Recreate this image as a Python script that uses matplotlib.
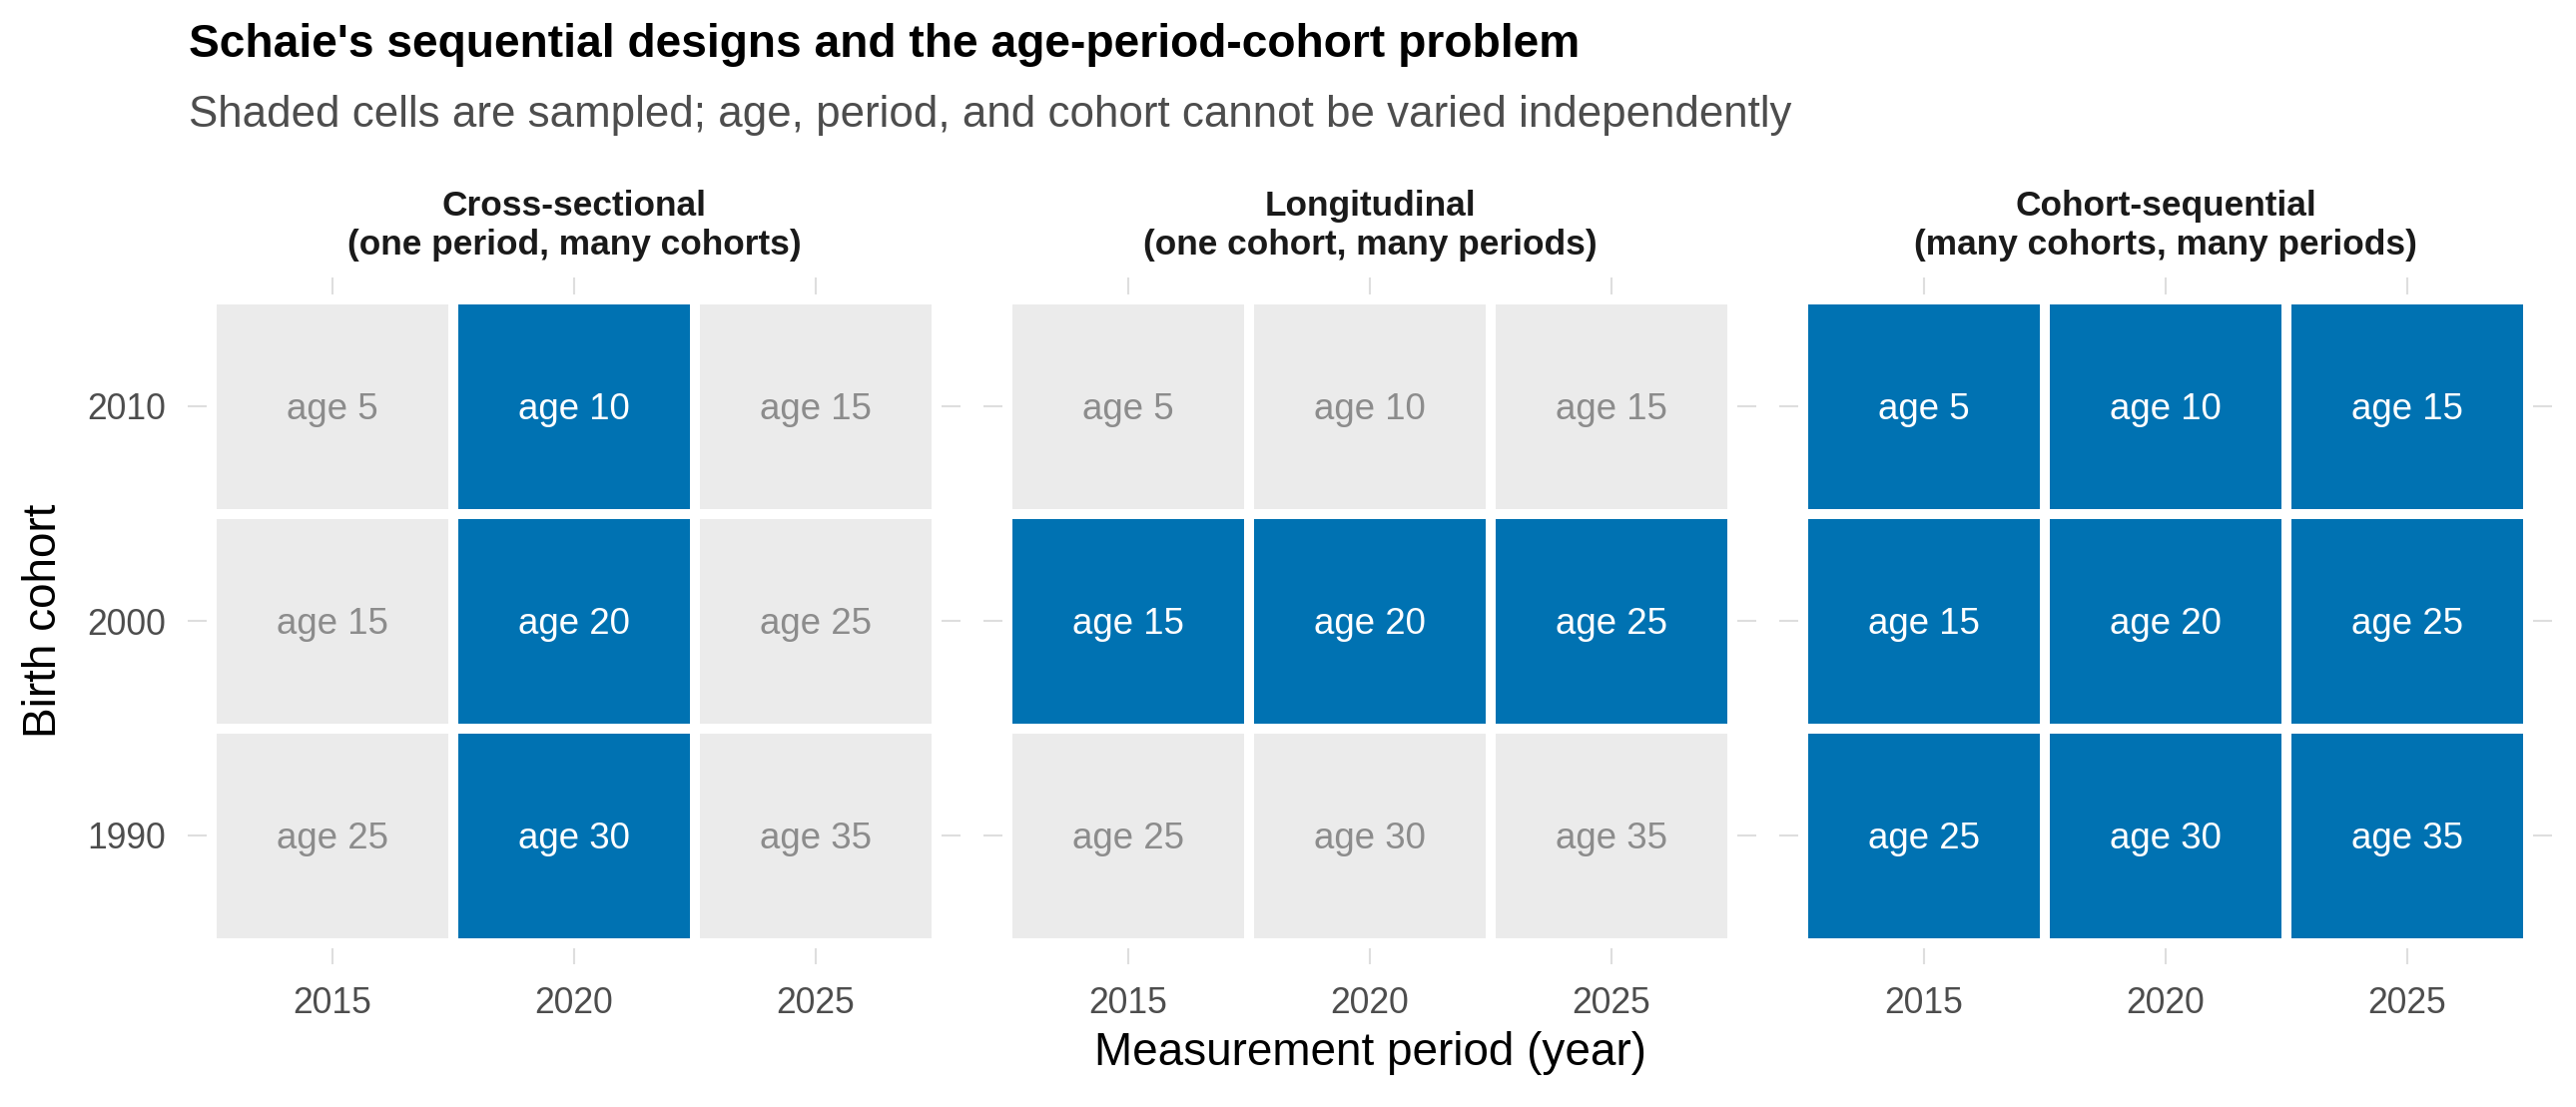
import matplotlib
matplotlib.use("Agg")
import matplotlib.pyplot as plt
from matplotlib.transforms import offset_copy

plt.rcParams['font.family'] = ['Liberation Sans', 'DejaVu Sans']

# data
designs = [
    "Cross-sectional\n(one period, many cohorts)",
    "Longitudinal\n(one cohort, many periods)",
    "Cohort-sequential\n(many cohorts, many periods)",
]
periods = [2015, 2020, 2025]
cohorts = [2010, 2000, 1990]
# ages, one row per cohort (same order as cohorts)
ages = [
    [5, 10, 15],
    [15, 20, 25],
    [25, 30, 35],
]
# 1 = sampled cell, rows follow cohorts, columns follow periods
sampled_cross = [[0, 1, 0], [0, 1, 0], [0, 1, 0]]
sampled_long = [[0, 0, 0], [1, 1, 1], [0, 0, 0]]
sampled_coh = [[1, 1, 1], [1, 1, 1], [1, 1, 1]]
sampled = [sampled_cross, sampled_long, sampled_coh]

BLUE = "#0072B2"
GREY_TILE = "#EBEBEB"
GRID = "#DEDEDE"

W, H, DPI = 2580, 1109, 200
fig = plt.figure(figsize=(W / DPI, H / DPI), dpi=DPI)

panel_left = [188, 985, 1782]
panel_w = 774
panel_top, panel_bot = 278, 966

axes = []
for i, left in enumerate(panel_left):
    ax = fig.add_axes([left / W, 1 - panel_bot / H, panel_w / W, (panel_bot - panel_top) / H])
    axes.append(ax)
    ax.set_xlim(2012, 2028)
    ax.set_ylim(1984, 2016)
    ax.set_axisbelow(True)
    ax.grid(True, color=GRID, linewidth=0.75)
    for s in ax.spines.values():
        s.set_visible(False)
    ax.set_xticks(periods)
    ax.set_yticks(cohorts)
    ax.tick_params(length=0, labelsize=12.8, labelcolor="#4D4D4D")
    ax.tick_params(axis='x', pad=8)
    ax.tick_params(axis='y', pad=8)
    if i > 0:
        ax.set_yticklabels([])

    # labels sit a touch lower than matplotlib's centre
    lab_tr = offset_copy(ax.transData, fig=fig, x=0, y=-1.2, units='points')
    for r, coh in enumerate(cohorts):
        for c, per in enumerate(periods):
            on = sampled[i][r][c] == 1
            ax.bar(per, 10, width=5, bottom=coh - 5, color=BLUE if on else GREY_TILE,
                   edgecolor="white", linewidth=3.6, zorder=2)
            ax.text(per, coh, f"age {ages[r][c]}", ha="center", va="center",
                    fontsize=13.2, color="white" if on else "#8C8C8C", zorder=3,
                    transform=lab_tr)

    ax.text(0.5, (panel_bot - 226) / (panel_bot - panel_top), designs[i],
            transform=ax.transAxes, ha="center", va="center", fontsize=12.7,
            fontweight="bold", color="#1A1A1A", linespacing=1.2)

fig.text(189 / W, 1 - 57 / H, "Schaie's sequential designs and the age-period-cohort problem",
         fontsize=16.6, fontweight="bold", color="black", va="baseline", ha="left")
fig.text(189 / W, 1 - 127 / H,
         "Shaded cells are sampled; age, period, and cohort cannot be varied independently",
         fontsize=15.8, color="#4D4D4D", va="baseline", ha="left")

fig.text(1372 / W, 1 - 1055 / H, "Measurement period (year)", fontsize=16.5,
         ha="center", va="center", color="black")
fig.text(44 / W, 1 - 622 / H, "Birth cohort", fontsize=16.5, rotation=90,
         ha="center", va="center", color="black")

fig.savefig("out.png", dpi=DPI, facecolor="white")
